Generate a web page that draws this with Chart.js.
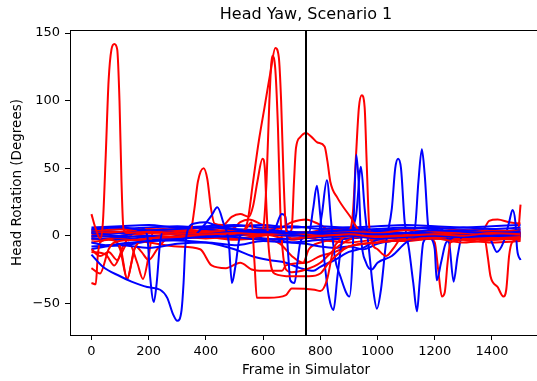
<!DOCTYPE html>
<html lang="en">
<head>
  <meta charset="UTF-8" />
  <title>Head Yaw, Scenario 1</title>
  <script src="https://cdn.jsdelivr.net/npm/chart.js"></script>
  <style>
    html, body { margin: 0; padding: 0; background: #fff; overflow: hidden; }
    #wrap { position: relative; width: 545px; height: 381px; }
  </style>
</head>
<body>
  <div id="wrap"><canvas id="chart"></canvas></div>

  <script>
    // axis ticks
    const xTicks = [0, 200, 400, 600, 800, 1000, 1200, 1400];
    const yTicks = [-50, 0, 50, 100, 150];
    const xRange = [-75, 1575];
    const yRange = [-73.5, 152.3];
    const markerFrame = 750;

    // red traces: [frame, degrees]
    const red01 = [[0,16],[15,5],[30,-2],[40,10],[50,60],[60,115],[70,138],[80,142],[90,138],[98,100],[105,40],[112,5],[125,2],[200,3],[300,2],[400,1],[500,2],[600,1],[700,2],[800,0],[900,1],[1000,-1],[1100,0],[1200,1],[1300,0],[1400,2],[1500,1]];
    const red02 = [[0,-24],[30,-28],[60,-10],[80,-5],[150,-3],[250,-1],[350,0],[450,2],[520,3],[545,10],[565,40],[585,70],[605,95],[625,120],[643,139],[655,132],[663,100],[672,40],[680,5],[700,-2],[800,0],[900,3],[1000,2],[1100,4],[1200,3],[1300,2],[1400,4],[1500,3]];
    const red03 = [[0,-35],[15,-36],[22,-15],[30,-5],[60,-3],[100,-8],[125,-32],[150,-10],[200,-2],[300,-1],[345,2],[360,20],[372,40],[392,50],[405,42],[418,20],[430,9],[460,8],[490,14],[520,16],[550,14],[565,22],[580,40],[598,57],[606,50],[612,20],[620,-10],[640,-28],[700,-30],[760,-30],[800,-28],[830,-20],[900,-8],[1000,-5],[1100,-3],[1200,-2],[1300,-5],[1400,-3],[1500,-2]];
    const red04 = [[0,-5],[50,-3],[100,0],[200,2],[300,3],[400,2],[500,1],[540,5],[560,10],[570,-20],[578,-46],[620,-46],[680,-44],[700,-39],[780,-40],[800,-41],[823,-33],[846,-10],[870,-3],[900,0],[1000,-2],[1100,0],[1200,-1],[1300,0],[1400,-2],[1500,-1]];
    const red05 = [[0,2],[100,3],[200,5],[300,4],[400,3],[500,4],[600,2],[680,0],[700,5],[708,40],[715,65],[730,73],[750,76],[770,73],[790,69],[815,66],[825,55],[835,40],[860,28],[905,14],[940,3],[1000,0],[1100,2],[1200,1],[1300,3],[1400,1],[1500,2]];
    const red06 = [[0,0],[100,-1],[200,0],[300,1],[400,0],[500,-2],[600,0],[700,2],[800,3],[880,2],[905,5],[915,20],[925,60],[935,95],[945,104],[955,95],[962,55],[970,10],[980,-5],[1000,-10],[1030,-15],[1060,-8],[1090,0],[1200,2],[1300,0],[1400,3],[1500,2]];
    const red07 = [[0,3],[100,5],[200,4],[300,5],[400,3],[500,2],[580,0],[600,5],[612,40],[622,100],[632,133],[642,125],[652,80],[660,20],[668,-10],[680,-25],[700,-27],[750,-25],[800,-20],[850,-10],[900,-3],[1000,1],[1100,-2],[1200,0],[1300,1],[1400,-1],[1500,0]];
    const red08 = [[0,-3],[100,-2],[200,-5],[300,-8],[380,-10],[420,-22],[470,-24],[520,-20],[560,-25],[600,-26],[666,-26],[680,-22],[750,-20],[800,-15],[850,-12],[900,-8],[1000,-5],[1100,-3],[1180,-2],[1200,-5],[1212,-25],[1225,-45],[1235,-42],[1245,-20],[1255,-5],[1300,-3],[1400,-2],[1500,-3]];
    const red09 = [[0,1],[100,2],[200,0],[300,-1],[400,-2],[500,0],[600,1],[700,-3],[800,0],[900,-2],[1000,1],[1100,0],[1200,-1],[1300,-2],[1375,-3],[1385,-15],[1395,-30],[1420,-38],[1440,-45],[1450,-40],[1460,-15],[1470,-5],[1490,0],[1500,23]];
    const red10 = [[0,-10],[30,-15],[60,-12],[90,-18],[110,-8],[150,2],[200,3],[300,1],[400,2],[500,0],[600,2],[700,0],[800,4],[900,5],[1000,3],[1100,5],[1200,6],[1300,4],[1370,5],[1390,11],[1420,12],[1460,10],[1500,9]];
    const red11 = [[0,-12],[50,-14],[80,-22],[100,-15],[130,-5],[160,-20],[180,-32],[200,-15],[215,3],[250,5],[300,4],[400,6],[450,4],[500,6],[520,10],[550,12],[600,8],[650,5],[700,10],[750,12],[780,10],[800,8],[850,2],[900,3],[1000,2],[1100,1],[1200,3],[1300,4],[1400,2],[1500,5]];
    const red12 = [[0,4],[100,3],[200,2],[300,3],[400,4],[500,3],[600,5],[700,1],[800,-3],[900,-5],[1000,-3],[1100,-4],[1200,-2],[1300,-3],[1400,-5],[1500,-4]];
    const red13 = [[0,-1],[60,0],[100,-10],[125,-32],[140,-20],[155,-8],[175,-12],[200,-18],[230,-10],[260,-3],[300,-2],[400,-1],[500,-3],[600,-2],[660,-6],[700,-15],[740,-20],[760,-10],[800,-5],[900,-2],[1000,-1],[1100,-3],[1200,-2],[1300,-1],[1400,-3],[1500,-2]];

    // blue traces: [frame, degrees]
    const blue01 = [[0,-14],[40,-23],[100,-30],[140,-34],[195,-38],[240,-40],[265,-46],[285,-58],[300,-63],[315,-55],[322,-35],[328,-8],[340,6],[360,9],[400,10],[430,8],[470,6],[520,4],[600,3],[700,2],[800,3],[900,4],[1000,5],[1100,6],[1200,5],[1300,6],[1400,5],[1500,6]];
    const blue02 = [[0,2],[50,1],[100,0],[150,2],[180,5],[195,0],[205,-30],[218,-49],[228,-35],[240,-5],[250,3],[300,2],[400,1],[500,3],[600,2],[700,0],[800,1],[900,2],[1000,1],[1100,2],[1200,4],[1300,3],[1400,2],[1500,3]];
    const blue03 = [[0,-5],[50,-7],[100,-6],[200,-4],[300,-3],[360,0],[391,7],[420,15],[440,21],[462,9],[480,-5],[491,-35],[503,-23],[520,0],[560,3],[600,2],[700,1],[800,-1],[900,0],[1000,-2],[1100,-1],[1200,0],[1300,-1],[1400,0],[1500,1]];
    const blue04 = [[0,0],[100,-1],[200,0],[300,-2],[400,-1],[500,0],[600,3],[640,5],[665,16],[678,14],[688,-15],[695,-33],[710,-35],[720,-20],[730,-5],[750,0],[800,2],[900,1],[1000,3],[1100,2],[1200,1],[1300,0],[1400,2],[1500,1]];
    const blue05 = [[0,5],[100,6],[200,4],[300,5],[400,6],[500,5],[600,4],[700,3],[760,2],[775,20],[788,37],[800,15],[815,-20],[830,-45],[846,-55],[860,-30],[875,-5],[890,2],[1000,3],[1100,2],[1200,3],[1300,4],[1400,3],[1500,4]];
    const blue06 = [[0,-2],[100,-3],[200,-1],[300,-2],[400,0],[500,-1],[600,-3],[700,-2],[790,-1],[805,15],[823,41],[838,10],[850,-15],[870,-30],[902,-45],[912,-20],[918,20],[926,60],[934,40],[942,0],[960,-20],[980,-25],[1000,-20],[1050,-15],[1100,-5],[1150,0],[1200,2],[1300,1],[1400,0],[1500,-1]];
    const blue07 = [[0,3],[100,2],[200,4],[300,3],[400,2],[500,4],[600,3],[700,2],[800,3],[900,5],[925,15],[942,51],[955,20],[970,-10],[985,-40],[998,-54],[1012,-40],[1030,-5],[1050,20],[1062,50],[1072,57],[1082,50],[1095,10],[1110,-10],[1125,-35],[1138,-56],[1147,-35],[1160,-5],[1200,2],[1300,3],[1400,1],[1500,2]];
    const blue08 = [[0,-8],[100,-7],[200,-9],[300,-6],[400,-5],[500,-7],[600,-4],[700,-5],[800,-3],[900,-2],[1000,0],[1100,2],[1130,5],[1143,40],[1155,64],[1165,45],[1178,5],[1200,-10],[1207,-33],[1222,-20],[1240,-5],[1300,0],[1400,2],[1500,0]];
    const blue09 = [[0,6],[100,7],[200,8],[300,6],[400,7],[500,8],[600,6],[700,7],[800,5],[900,6],[1000,4],[1100,5],[1200,6],[1250,-5],[1266,-34],[1280,-15],[1300,3],[1380,4],[1400,-5],[1417,-12],[1440,-5],[1460,10],[1472,19],[1482,10],[1488,-10],[1500,-18]];
    const blue10 = [[0,4],[100,5],[200,6],[300,7],[400,6],[500,7],[600,8],[700,6],[800,7],[900,6],[1000,7],[1100,8],[1200,7],[1300,6],[1400,7],[1500,8]];
    const blue11 = [[0,-10],[50,-8],[100,-7],[150,-6],[200,-4],[250,-2],[300,0],[350,2],[400,5],[450,3],[500,1],[550,0],[600,-2],[650,-3],[700,-5],[750,-6],[800,-8],[850,-9],[900,-8],[950,-10],[1000,-6],[1050,-4],[1100,-3],[1200,-2],[1300,-1],[1400,0],[1500,1]];
    const blue12 = [[0,-2],[200,-3],[400,-5],[500,-10],[560,-15],[620,-18],[680,-20],[730,-24],[776,-26],[800,-23],[850,-18],[900,-12],[950,-9],[1000,-3],[1100,-1],[1200,0],[1300,1],[1400,-1],[1500,0]];

    const redSeries = [red01, red02, red03, red04, red05, red06, red07, red08, red09, red10, red11, red12, red13];
    const blueSeries = [blue01, blue02, blue03, blue04, blue05, blue06, blue07, blue08, blue09, blue10, blue11, blue12];

    function lineSet(pts, color) {
      return {
        data: pts.map(p => ({x: p[0], y: p[1]})),
        borderColor: color,
        borderWidth: 2,
        pointRadius: 0,
        fill: false,
        tension: 0.35,
        cubicInterpolationMode: 'monotone'
      };
    }

    const datasets = [{
      data: [{x: markerFrame, y: yRange[0]}, {x: markerFrame, y: yRange[1]}],
      borderColor: '#000',
      borderWidth: 2,
      pointRadius: 0,
      fill: false
    }];
    const n = Math.max(redSeries.length, blueSeries.length);
    for (let i = 0; i < n; i++) {
      if (blueSeries[i]) datasets.push(lineSet(blueSeries[i], '#0000ff'));
      if (redSeries[i]) datasets.push(lineSet(redSeries[i], '#ff0000'));
    }

    const frame = {
      id: 'frame',
      afterDraw(c) {
        const {ctx, chartArea: a} = c;
        ctx.save();
        ctx.strokeStyle = '#000';
        ctx.lineWidth = 1;
        ctx.beginPath();
        ctx.moveTo(a.left, a.top + 0.5);
        ctx.lineTo(a.right, a.top + 0.5);
        ctx.stroke();
        ctx.fillStyle = '#000';
        ctx.font = '16px "DejaVu Sans"';
        ctx.textAlign = 'center';
        ctx.textBaseline = 'middle';
        ctx.fillText('Head Yaw, Scenario 1', (a.left + a.right) / 2, 15);
        ctx.restore();
      }
    };

    const tickFont = {family: 'DejaVu Sans', size: 13};
    const labelFont = {family: 'DejaVu Sans', size: 13.5};
    const fmt = v => (v < 0 ? '\u2212' + Math.abs(v) : String(v));

    new Chart(document.getElementById('chart'), {
      type: 'line',
      data: {datasets: datasets},
      options: {
        responsive: true,
        maintainAspectRatio: false,
        animation: false,
        layout: {padding: {top: 30, right: 3, left: 0, bottom: 0}},
        plugins: {legend: {display: false}, tooltip: {enabled: false}, title: {display: false}},
        scales: {
          x: {
            type: 'linear',
            min: xRange[0], max: xRange[1],
            afterBuildTicks: s => { s.ticks = xTicks.map(v => ({value: v})); },
            afterFit: s => { s.height = 46; },
            grid: {display: true, drawOnChartArea: false, tickLength: 5, color: '#000'},
            border: {color: '#000', width: 1},
            ticks: {color: '#000', font: tickFont, padding: 4, maxRotation: 0, callback: fmt},
            title: {display: true, text: 'Frame in Simulator', color: '#000', font: labelFont, padding: {top: 0, bottom: 2}}
          },
          y: {
            type: 'linear',
            min: yRange[0], max: yRange[1],
            afterBuildTicks: s => { s.ticks = yTicks.map(v => ({value: v})); },
            afterFit: s => { s.width = 70; },
            grid: {display: true, drawOnChartArea: false, tickLength: 5, color: '#000'},
            border: {color: '#000', width: 1},
            ticks: {color: '#000', font: tickFont, padding: 5, callback: fmt},
            title: {display: true, text: 'Head Rotation (Degrees)', color: '#000', font: labelFont, padding: {top: 9, bottom: 0}}
          }
        }
      },
      plugins: [frame]
    });
  </script>
</body>
</html>
